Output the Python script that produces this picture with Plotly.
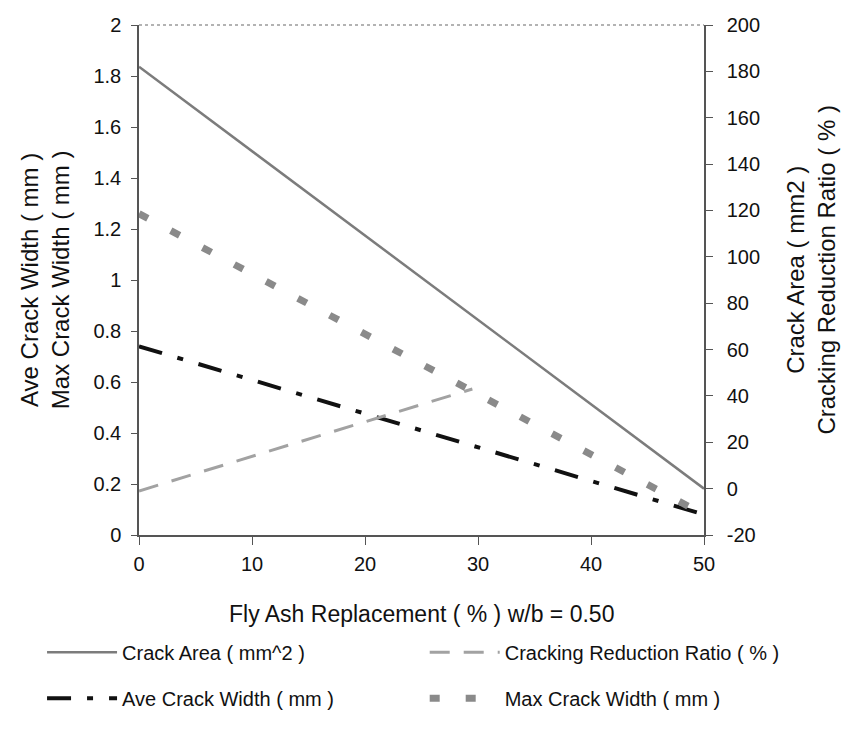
import plotly.graph_objects as go

# Data
fly_ash = [0, 50]
crack_area = [182, 0]                 # mm^2, right axis
reduction_x = [0, 29.5]
reduction_ratio = [-1, 43]            # %, right axis
ave_width = [0.74, 0.08]              # mm, left axis
max_width = [1.26, 0.08]              # mm, left axis

right_ticks = [-20, 0, 20, 40, 60, 80, 100, 120, 140, 160, 180, 200]
right_ticktext = ["-20", "0", "20", "40", "60", "80", "100", "120", "140", "160", "180", "200"]

FONT = "Liberation Sans, Arial, sans-serif"

fig = go.Figure()
fig.add_trace(go.Scatter(x=fly_ash, y=crack_area, yaxis="y2", mode="lines",
                         name="Crack Area ( mm^2 )", legend="legend", legendgroup="a",
                         line=dict(color="#7c7c7c", width=2.5)))
fig.add_trace(go.Scatter(x=reduction_x, y=reduction_ratio, yaxis="y2", mode="lines",
                         name="Cracking Reduction Ratio ( % )", legend="legend2", legendgroup="b",
                         line=dict(color="#a2a2a2", width=3, dash="20px,14px")))
fig.add_trace(go.Scatter(x=fly_ash, y=ave_width, mode="lines",
                         name="Ave Crack Width ( mm )", legend="legend", legendgroup="c",
                         line=dict(color="#111111", width=4, dash="24px,16px,6px,16px")))
fig.add_trace(go.Scatter(x=fly_ash, y=max_width, mode="lines",
                         name="Max Crack Width ( mm )", legend="legend2", legendgroup="d",
                         line=dict(color="#8a8a8a", width=7, dash="10px,26px")))

axis_common = dict(showgrid=False, zeroline=False, showline=True,
                   linecolor="#555555", linewidth=1.5, tickcolor="#555555",
                   tickfont=dict(family=FONT, size=20, color="#111111"))

legend_common = dict(orientation="v", xref="container", yref="container",
                     y=0.138, xanchor="left", yanchor="top",
                     tracegroupgap=17, itemwidth=70,
                     font=dict(family=FONT, size=20, color="#111111"),
                     bgcolor="rgba(0,0,0,0)")

fig.update_layout(
    width=841, height=734,
    margin=dict(l=139, r=137, t=25, b=199, autoexpand=False),
    paper_bgcolor="#ffffff", plot_bgcolor="#ffffff",
    font=dict(family=FONT, color="#111111"),
    xaxis=dict(range=[0, 50], dtick=10, ticks="outside", ticklen=8,
               ticklabelstandoff=2, **axis_common),
    yaxis=dict(range=[0, 2], dtick=0.2, ticks="outside", ticklen=6,
               ticklabelstandoff=6, **axis_common),
    yaxis2=dict(range=[-20, 200], tickvals=right_ticks, ticktext=right_ticktext,
                overlaying="y", side="right",
                ticks="outside", ticklen=7, ticklabelstandoff=10, **axis_common),
    showlegend=True,
    legend=dict(x=0.05, **legend_common),
    legend2=dict(x=0.505, **legend_common),
)

# dotted top border
fig.add_shape(type="line", xref="paper", yref="paper", x0=0, x1=1, y0=1, y1=1,
              line=dict(color="#9a9a9a", width=1.5, dash="dot"))

fig.add_annotation(text="Fly Ash Replacement ( % ) w/b = 0.50", xref="paper", yref="paper",
                   x=0.5, y=-0.155, showarrow=False, yanchor="middle",
                   font=dict(family=FONT, size=23, color="#111111"))
fig.add_annotation(text="Ave Crack Width ( mm )<br>Max Crack Width ( mm )",
                   xref="paper", yref="paper", x=-0.166, y=0.5, textangle=-90,
                   showarrow=False, xanchor="center", yanchor="middle",
                   font=dict(family=FONT, size=24, color="#111111"))
fig.add_annotation(text="Crack Area ( mm2 )<br>Cracking Reduction Ratio ( % )",
                   xref="paper", yref="paper", x=1.189, y=0.52, textangle=-90,
                   showarrow=False, xanchor="center", yanchor="middle",
                   font=dict(family=FONT, size=24, color="#111111"))

fig.write_html("out.html")
